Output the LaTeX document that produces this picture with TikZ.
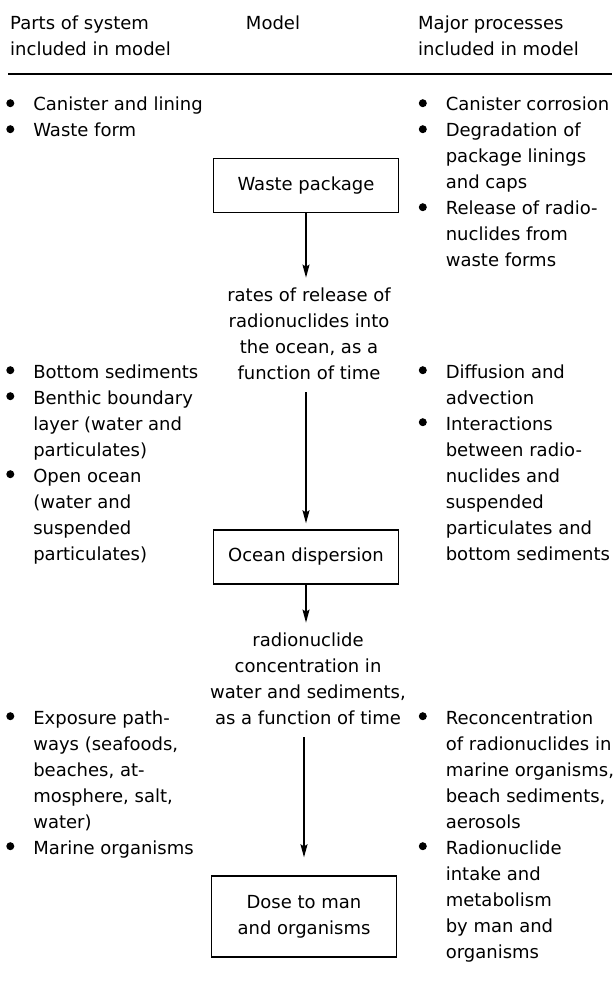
\documentclass[tikz,border=0pt]{standalone}
\usepackage{fontspec}
\setmainfont{DejaVu Sans}
\usepackage{tikz}
\usetikzlibrary{arrows.meta}

\newcommand{\bul}{\makebox[27pt][l]{\tikz[baseline=0pt]\fill (7.8pt,0pt) (3.9pt,7.8pt) circle (4pt);}}

\begin{document}
\begin{tikzpicture}[x=1pt,y=-1pt,
  txt/.style={inner sep=0pt,font={\fontsize{18}{26}\selectfont}},
  modelbox/.style={draw,line width=1.4pt,minimum width=185pt,minimum height=54pt,
    inner sep=0pt,align=center,font={\fontsize{18}{26}\selectfont}},
  flow/.style={-{Stealth[length=13pt,width=7pt,inset=2pt]},line width=1.3pt}]
\useasboundingbox (0,0) rectangle (615,981);
%
% column heads
\node [txt,anchor=base west] (hdrparts) at (10,30)
  {\begin{tabular}[t]{@{}l@{}}Parts of system\\included in model\end{tabular}};
\node [txt,anchor=base] (hdrmodel) at (273,30) {Model};
\node [txt,anchor=base west] (hdrproc) at (418,30)
  {\begin{tabular}[t]{@{}l@{}}Major processes\\included in model\end{tabular}};
\path[draw,line width=1.4pt] (8,74) -- (612,74);
%
% model chain
\node [modelbox] (wastepkg) at (306,185.5) {Waste package};
\node [txt,inner ysep=5pt,anchor=base] (release) at (309,301)
  {\begin{tabular}[t]{@{}c@{}}rates of release of\\radionuclides into\\the ocean, as a\\function of time\end{tabular}};
\node [modelbox] (oceandisp) at (306,557) {Ocean dispersion};
\node [txt,inner ysep=5pt,anchor=base] (conc) at (308,646)
  {\begin{tabular}[t]{@{}c@{}}radionuclide\\concentration in\\water and sediments,\\as a function of time\end{tabular}};
\node [modelbox,minimum height=81pt] (dose) at (304,916.5) {Dose to man\\and organisms};
%
\draw [flow] (wastepkg.south) -- (wastepkg.south |- release.north);
\draw [flow,shorten >=6pt] (release.south -| oceandisp.north) -- (oceandisp.north);
\draw [flow] (oceandisp.south) -- (oceandisp.south |- conc.north);
\draw [flow,shorten >=18pt] (conc.south -| dose.north) -- (dose.north);
%
% parts of system
\node [txt,anchor=base west] (partsA) at (6.1,111)
  {\begin{tabular}[t]{@{}l@{}l@{}}
   \bul & Canister and lining\\
   \bul & Waste form
   \end{tabular}};
\node [txt,anchor=base west] (partsB) at (6.1,378)
  {\begin{tabular}[t]{@{}l@{}l@{}}
   \bul & Bottom sediments\\
   \bul & Benthic boundary\\
        & layer (water and\\
        & particulates)\\
   \bul & Open ocean\\
        & (water and\\
        & suspended\\
        & particulates)
   \end{tabular}};
\node [txt,anchor=base west] (partsC) at (6.1,724)
  {\begin{tabular}[t]{@{}l@{}l@{}}
   \bul & Exposure path-\\
        & ways (seafoods,\\
        & beaches, at-\\
        & mosphere, salt,\\
        & water)\\
   \bul & Marine organisms
   \end{tabular}};
%
% major processes
\node [txt,anchor=base west] (procA) at (418.6,111)
  {\begin{tabular}[t]{@{}l@{}l@{}}
   \bul & Canister corrosion\\
   \bul & Degradation of\\
        & package linings\\
        & and caps\\
   \bul & Release of radio-\\
        & nuclides from\\
        & waste forms
   \end{tabular}};
\node [txt,anchor=base west] (procB) at (418.6,378)
  {\begin{tabular}[t]{@{}l@{}l@{}}
   \bul & Diffusion and\\
        & advection\\
   \bul & Interactions\\
        & between radio-\\
        & nuclides and\\
        & suspended\\
        & particulates and\\
        & bottom sediments
   \end{tabular}};
\node [txt,anchor=base west] (procC) at (418.6,724)
  {\begin{tabular}[t]{@{}l@{}l@{}}
   \bul & Reconcentration\\
        & of radionuclides in\\
        & marine organisms,\\
        & beach sediments,\\
        & aerosols\\
   \bul & Radionuclide\\
        & intake and\\
        & metabolism\\
        & by man and\\
        & organisms
   \end{tabular}};
\end{tikzpicture}
\end{document}
